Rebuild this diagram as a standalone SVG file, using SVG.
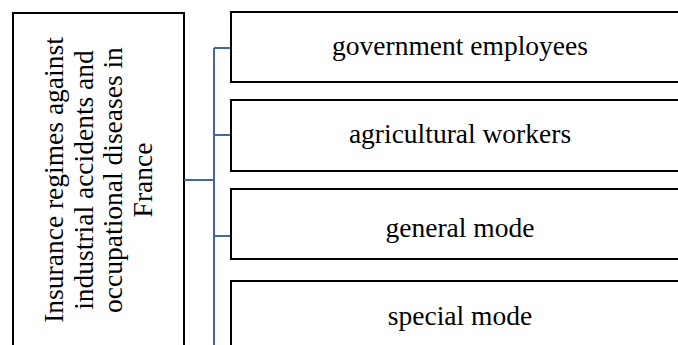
<svg xmlns="http://www.w3.org/2000/svg" width="678" height="345" viewBox="0 0 678 345">
<style>
.box{fill:#fff;stroke:#000;stroke-width:2}
.t{font-family:"Liberation Serif","Times New Roman",serif;font-size:27.5px;fill:#000;text-anchor:middle}
.c{fill:none;stroke:#4167ab;stroke-width:2}
</style>
<rect width="678" height="345" fill="#fff"/>
<g id="root">
<rect class="box" x="13" y="13" width="171" height="345"/>
<text class="t" transform="translate(63,180) rotate(-90)">Insurance regimes against</text>
<text class="t" transform="translate(92.7,180) rotate(-90)">industrial accidents and</text>
<text class="t" transform="translate(122.4,180) rotate(-90)">occupational diseases in</text>
<text class="t" transform="translate(152,180) rotate(-90)">France</text>
</g>
<g id="connectors">
<path class="c" d="M184 180H214M214 48V345M214 48H230M214 135H230M214 236H230"/>
</g>
<g id="n1">
<rect class="box" x="231" y="12" width="470" height="70"/>
<text class="t" x="460" y="55">government employees</text>
</g>
<g id="n2">
<rect class="box" x="231" y="100" width="470" height="71"/>
<text class="t" x="460" y="143">agricultural workers</text>
</g>
<g id="n3">
<rect class="box" x="231" y="189" width="470" height="70"/>
<text class="t" x="460" y="237">general mode</text>
</g>
<g id="n4">
<rect class="box" x="231" y="281" width="470" height="100"/>
<text class="t" x="460" y="325">special mode</text>
</g>
</svg>
